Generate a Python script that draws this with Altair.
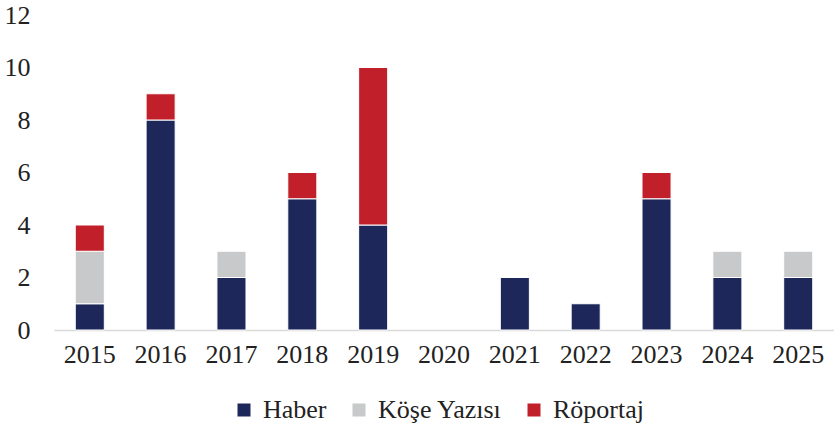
import altair as alt
import pandas as pd

years = ["2015", "2016", "2017", "2018", "2019", "2020", "2021", "2022", "2023", "2024", "2025"]
haber = [1, 8, 2, 5, 4, 0, 2, 1, 5, 2, 2]
kose = [2, 0, 1, 0, 0, 0, 0, 0, 0, 1, 1]
roportaj = [1, 1, 0, 1, 6, 0, 0, 0, 1, 0, 0]
series = ["Haber", "Köşe Yazısı", "Röportaj"]
colors = ["#1E275A", "#C8C9CB", "#C1202A"]

rows = []
for i, y in enumerate(years):
    for k, (name, vals) in enumerate(zip(series, [haber, kose, roportaj])):
        rows.append({"Yıl": y, "Tür": name, "Değer": vals[i], "sira": k})
df = pd.DataFrame(rows)

font = "Liberation Serif"
fs = 26

chart = alt.Chart(df).mark_bar(stroke="white", strokeWidth=1).encode(
    x=alt.X("Yıl:N", sort=years, title=None,
            scale=alt.Scale(domain=years, paddingInner=0.59, paddingOuter=0.3),
            axis=alt.Axis(labelAngle=0, ticks=False, domainColor="#D9D9D9", domainWidth=1.5,
                          labelPadding=11)),
    y=alt.Y("Değer:Q", title=None, stack="zero",
            scale=alt.Scale(domain=[0, 12], nice=False),
            axis=alt.Axis(values=[0, 2, 4, 6, 8, 10, 12], grid=False, domain=False, ticks=False,
                          labelPadding=24)),
    color=alt.Color("Tür:N", sort=series,
                    scale=alt.Scale(domain=series, range=colors),
                    legend=alt.Legend(title=None, orient="none", direction="horizontal",
                                      legendX=177, legendY=382, symbolType="square",
                                      symbolSize=169, symbolStrokeWidth=0,
                                      labelOffset=6, columnPadding=19)),
    order=alt.Order("sira:Q", sort="ascending"),
).transform_filter(
    alt.datum["Değer"] > 0
).properties(
    width=780, height=315,
    autosize=alt.AutoSizeParams(type="none"),
    padding={"left": 54, "top": 15, "right": 0, "bottom": 103},
).configure(
    font=font
).configure_axis(
    labelFont=font, labelFontSize=fs, labelColor="#222"
).configure_legend(
    labelFont=font, labelFontSize=fs, labelColor="#222"
).configure_view(stroke=None)

chart.save("out.html", embed_options={"renderer": "svg", "actions": False})
